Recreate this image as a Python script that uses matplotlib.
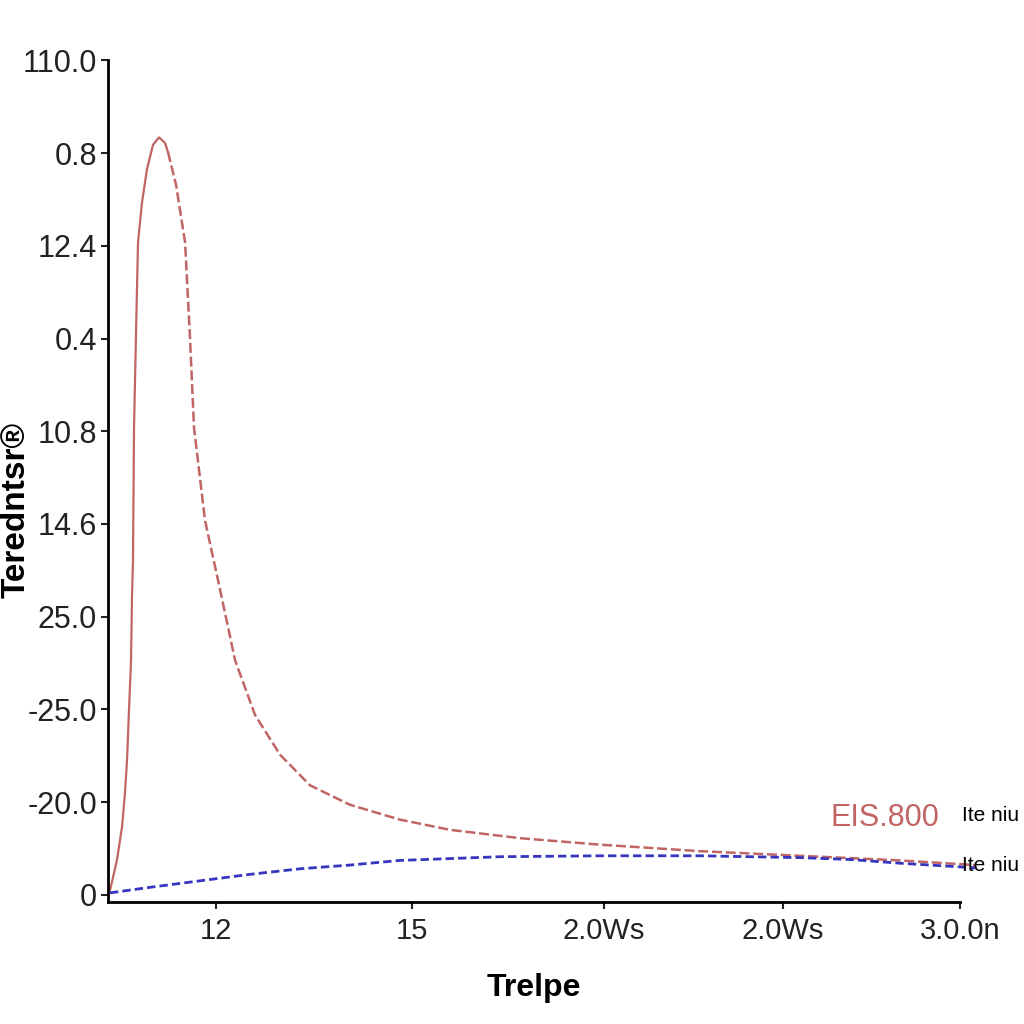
import matplotlib
matplotlib.use('Agg')
import matplotlib.pyplot as plt

# Datos (unidades de los ejes)
red_rise_x = [0.23, 0.47, 1.06, 1.64, 1.99, 2.23, 2.46, 2.70, 2.82, 2.93, 3.05, 3.29,
              3.52, 3.99, 4.58, 5.28, 5.99, 6.69, 7.04]
red_rise_y = [0.05, 0.14, 0.38, 0.73, 1.10, 1.45, 1.99, 2.53, 3.25, 3.60, 5.04, 6.08,
              7.04, 7.47, 7.83, 8.09, 8.17, 8.11, 8.01]
red_fall_x = [7.04, 7.98, 9.04, 9.60, 10.09, 11.38, 13.15, 14.91, 17.25, 20.19, 23.71, 28.40,
              34.27, 40.14, 48.36, 57.75, 69.48, 81.22, 92.96, 101.8]
red_fall_y = [8.01, 7.66, 7.04, 6.05, 5.04, 4.04, 3.29, 2.53, 1.94, 1.51, 1.18, 0.97,
              0.81, 0.70, 0.61, 0.54, 0.47, 0.42, 0.37, 0.32]
blue_x = [0.23, 4.93, 10.80, 16.67, 22.54, 28.40, 34.27, 40.14, 46.01, 57.75,
          69.48, 75.35, 81.22, 87.09, 92.96, 101.8]
blue_y = [0.02, 0.08, 0.15, 0.22, 0.28, 0.32, 0.37, 0.39, 0.41, 0.42,
          0.42, 0.41, 0.40, 0.38, 0.34, 0.29]

x_ticks = [12.7, 35.7, 58.2, 79.2, 100]
x_labels = ['12', '15', '2.0Ws', '2.0Ws', '3.0.0n']
y_ticks = [0, 1, 2, 3, 4, 5, 6, 7, 8, 9]
y_labels = ['0', '-20.0', '-25.0', '25.0', '14.6', '10.8', '0.4', '12.4', '0.8', '110.0']

plt.rcParams['font.family'] = ['Liberation Sans', 'DejaVu Sans']

fig = plt.figure(figsize=(10.24, 10.24), dpi=100)
ax = fig.add_axes([0.1055, 0.119, 0.832, 0.822])

red = '#c06464'
blue = '#3535c0'
ax.plot(red_rise_x, red_rise_y, color=red, lw=1.6, clip_on=False)
ax.plot(red_fall_x, red_fall_y, color=red, lw=1.8, ls=(0, (4, 1.5)), clip_on=False)
ax.plot(blue_x, blue_y, color=blue, lw=2.0, ls=(0, (3, 1.5)), clip_on=False)

ax.set_xlim(0, 100)
ax.set_ylim(-0.08, 9.0)
ax.set_xticks(x_ticks)
ax.set_xticklabels(x_labels, fontsize=21)
ax.set_yticks(y_ticks)
ax.set_yticklabels(y_labels, fontsize=22)
ax.tick_params(direction='out', length=5, width=1.5, pad=3, colors='#222222')
ax.tick_params(axis='x', pad=6)
ax.spines['top'].set_visible(False)
ax.spines['right'].set_visible(False)
ax.spines['left'].set_linewidth(2)
ax.spines['bottom'].set_linewidth(2)

ax.set_xlabel('Trelpe', fontsize=23, fontweight='bold', labelpad=20)
fig.text(0.016, 0.502, 'Teredntsr\u00ae', rotation=90, fontsize=24, fontweight='bold',
         ha='center', va='center')

fig.text(0.864, 0.201, 'EIS.800', color=red, fontsize=22, ha='center', va='center')
fig.text(0.939, 0.204, 'Ite niu', fontsize=15, ha='left', va='center')
fig.text(0.939, 0.155, 'Ite niu', fontsize=15, ha='left', va='center')

fig.savefig('out.png', dpi=100)
